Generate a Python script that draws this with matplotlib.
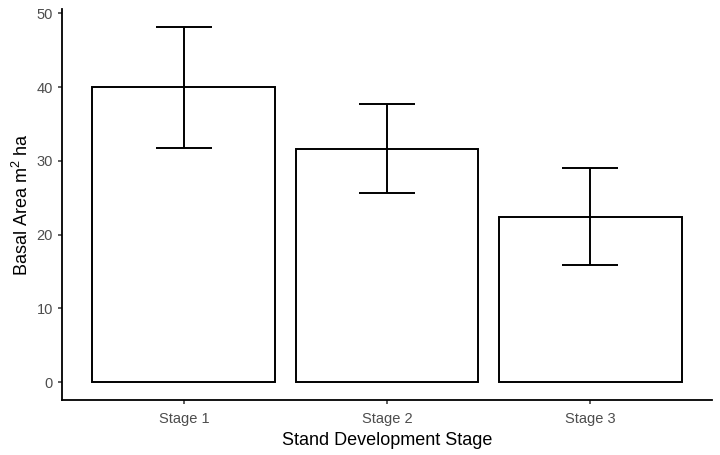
import matplotlib
matplotlib.use("Agg")
import matplotlib.pyplot as plt

# data
stages = ["Stage 1", "Stage 2", "Stage 3"]
means = [40.0, 31.6, 22.4]
upper = [48.2, 37.7, 29.0]
lower = [31.8, 25.6, 15.9]
yticks = [0, 10, 20, 30, 40, 50]

plt.rcParams['font.family'] = ['Liberation Sans', 'DejaVu Sans']
plt.rcParams['mathtext.fontset'] = 'custom'
plt.rcParams['mathtext.rm'] = 'Liberation Sans'

fig = plt.figure(figsize=(7.2, 4.55), dpi=100)
ax = fig.add_axes([62 / 720, 55 / 455, 650 / 720, 391 / 455])

x = [1, 2, 3]
ax.bar(x, means, width=0.9, color="white", edgecolor="black", linewidth=1.4, zorder=2)
err = [[m - l for m, l in zip(means, lower)], [u - m for m, u in zip(means, upper)]]
ax.errorbar(x, means, yerr=err, fmt="none", ecolor="black", elinewidth=1.4,
            capsize=20, capthick=1.4, zorder=3)

ax.set_xlim(0.4, 3.6)
ax.set_ylim(-2.41, 50.6)
ax.set_xticks(x)
ax.set_xticklabels(stages)
ax.set_yticks(yticks)

for side in ["top", "right"]:
    ax.spines[side].set_visible(False)
for side in ["left", "bottom"]:
    ax.spines[side].set_linewidth(1.3)
ax.tick_params(axis="both", colors="#333333", labelcolor="#4D4D4D", labelsize=10.5,
               length=3, width=1.1, pad=3.5)
ax.tick_params(axis="x", pad=6)

ax.set_xlabel("Stand Development Stage", fontsize=13, color="black", labelpad=4)
ax.set_ylabel(r"Basal Area m$^{\mathrm{2}}$ ha", fontsize=13, color="black", labelpad=3)

fig.savefig("out.png", dpi=100)
